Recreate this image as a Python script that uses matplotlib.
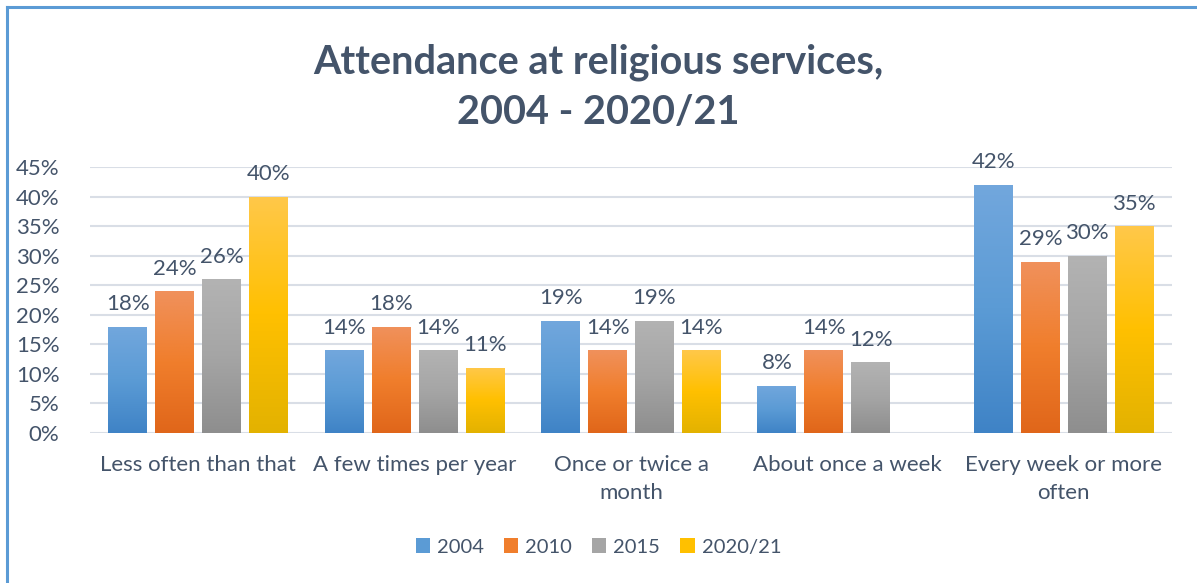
import numpy as np
import matplotlib
matplotlib.use("Agg")
import matplotlib.pyplot as plt
from matplotlib.patches import Patch
from matplotlib.lines import Line2D
from matplotlib.colors import LinearSegmentedColormap

plt.rcParams['font.family'] = ['Lato', 'DejaVu Sans']

categories = ["Less often than that", "A few times per year", "Once or twice a\nmonth",
              "About once a week", "Every week or more\noften"]
series_names = ["2004", "2010", "2015", "2020/21"]
v2004 = [18, 14, 19, 8, 42]
v2010 = [24, 18, 14, 14, 29]
v2015 = [26, 14, 19, 12, 30]
v2020 = [40, 11, 14, np.nan, 35]
yticks = [0, 5, 10, 15, 20, 25, 30, 35, 40, 45]

series = [v2004, v2010, v2015, v2020]
grads = [("#72A7DD", "#5B9BD5", "#3F83C6"),
         ("#F0915C", "#F07E2C", "#E0661A"),
         ("#B3B3B3", "#A5A5A5", "#8E8E8E"),
         ("#FFC84A", "#FFC000", "#E3B200")]
txt = "#44546A"

fig = plt.figure(figsize=(11.97, 5.83), dpi=100)
ax = fig.add_axes([90/1197, 1-433/583, (1172-90)/1197, (433-167)/583])

x = np.arange(len(categories))
step = 0.217
width = 0.18
for i, (vals, g) in enumerate(zip(series, grads)):
    vals_frac = np.array(vals, dtype=float) / 100
    pos = x + (i - 1.5) * step
    bars = ax.bar(pos, vals_frac, width, color=g[1], zorder=3, linewidth=0)
    cmap = LinearSegmentedColormap.from_list("g%d" % i, [g[2], g[1], g[0]])
    grad = np.linspace(0, 1, 256).reshape(-1, 1)
    for b, v in zip(bars, vals_frac):
        if np.isnan(v):
            continue
        bx, by = b.get_x(), b.get_y()
        bw, bh = b.get_width(), b.get_height()
        im = ax.imshow(grad, extent=[bx, bx + bw, by, by + bh], origin="lower",
                       cmap=cmap, aspect="auto", zorder=4)
        im.set_clip_path(b)
        ax.annotate(f"{v*100:.0f}%", (bx + bw/2, by + bh), xytext=(0, 9),
                    textcoords="offset points", ha="center", va="bottom",
                    fontsize=16, color=txt, zorder=5)

ax.set_xlim(-0.5, len(categories) - 0.5)
ax.set_ylim(0, 0.45)
ax.set_yticks([t/100 for t in yticks])
ax.set_yticklabels([f"{t}%" for t in yticks])
ax.set_xticks(x)
ax.set_xticklabels(categories, linespacing=1.5)
ax.tick_params(axis='both', length=0, labelsize=16, labelcolor=txt)
ax.tick_params(axis='x', pad=16)
ax.tick_params(axis='y', pad=22)
for lbl in ax.get_yticklabels():
    lbl.set_horizontalalignment('right')
ax.yaxis.grid(True, color="#D9DEE6", linewidth=1.5, zorder=0)
ax.set_axisbelow(True)
for s in ax.spines.values():
    s.set_visible(False)

fig.text(0.5, 1 - 87/583, "Attendance at religious services,\n2004 - 2020/21",
         ha="center", va="center", fontsize=28.5, fontweight="bold", color=txt,
         linespacing=1.42)

handles = [Patch(facecolor=g[1], edgecolor="none") for g in grads]
fig.legend(handles, series_names, loc="center", bbox_to_anchor=(0.5, 1 - 547/583),
           ncol=4, frameon=False, fontsize=14.5, handlelength=0.7, handleheight=0.7,
           handletextpad=0.35, columnspacing=1.0, labelcolor=txt)

fig.add_artist(Line2D([7/1197, 7/1197], [0, 1 - 7/583], transform=fig.transFigure,
                      color="#5B9BD5", linewidth=2.2))
fig.add_artist(Line2D([7/1197, 1], [1 - 7/583, 1 - 7/583], transform=fig.transFigure,
                      color="#5B9BD5", linewidth=2.2))

fig.savefig("out.png", dpi=100, facecolor="white")
